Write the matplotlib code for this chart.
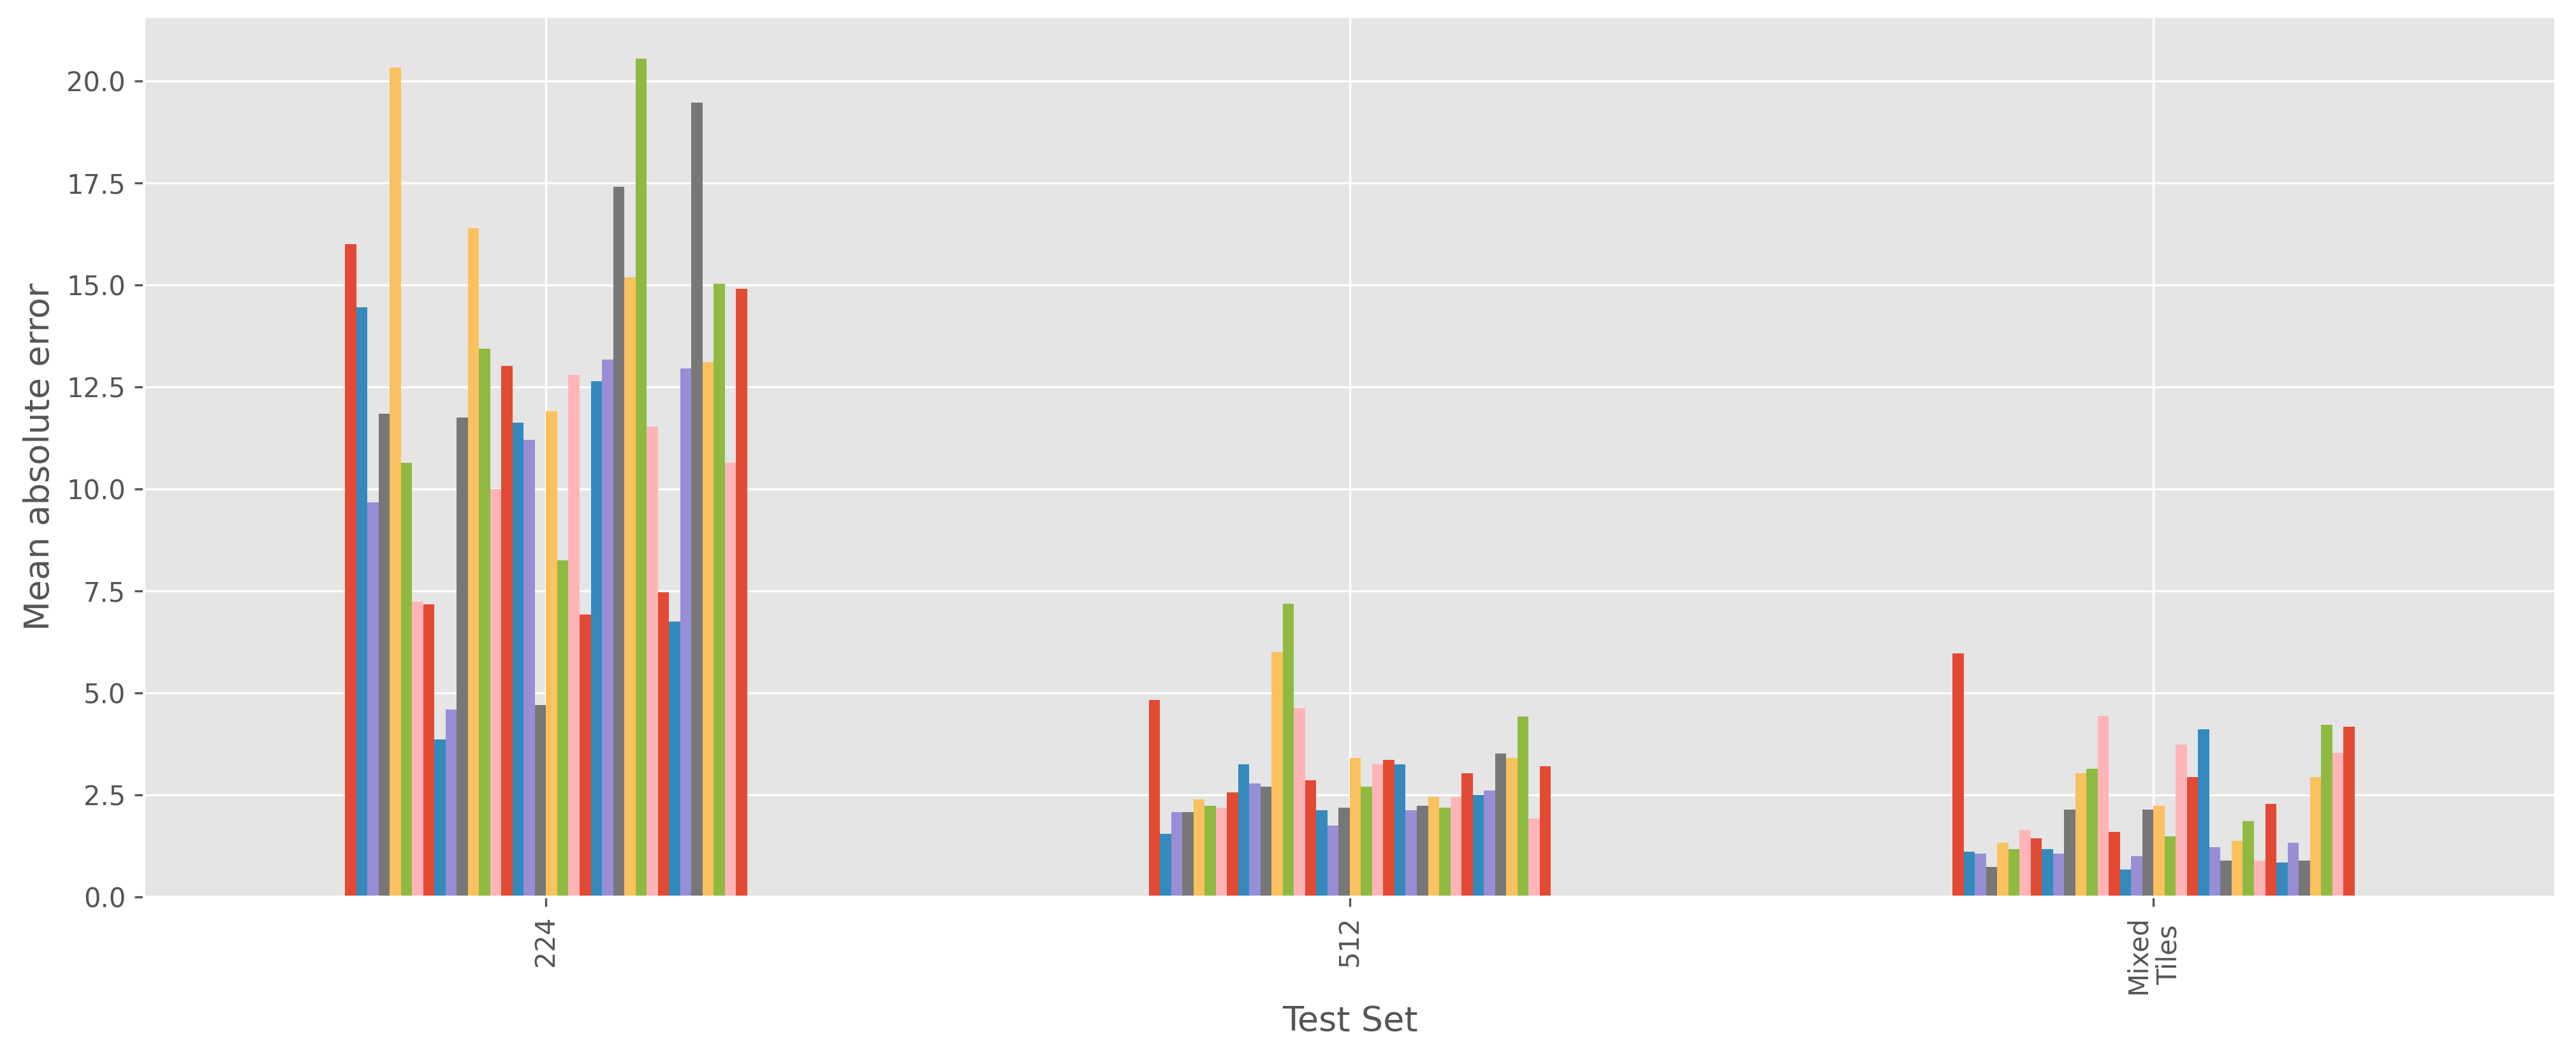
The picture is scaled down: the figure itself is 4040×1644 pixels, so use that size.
import matplotlib
matplotlib.use("Agg")
import matplotlib.pyplot as plt
import pandas as pd

plt.style.use("ggplot")
plt.rcParams["axes.labelsize"] = 13

test_sets = ["224", "512", "Mixed\nTiles"]

# one value per model run (36 runs)
mae_224 = [16.00, 14.45, 9.68, 11.85, 20.33, 10.64, 7.24, 7.18, 3.86, 4.60,
           11.75, 16.40, 13.44, 10.00, 13.02, 11.63, 11.21, 4.70, 11.91, 8.25,
           12.80, 6.92, 12.64, 13.18, 17.41, 15.19, 20.55, 11.53, 7.47, 6.76,
           12.96, 19.48, 13.12, 15.03, 10.64, 14.91]
mae_512 = [4.84, 1.55, 2.08, 2.08, 2.40, 2.24, 2.19, 2.56, 3.25, 2.78,
           2.71, 6.01, 7.19, 4.63, 2.87, 2.13, 1.76, 2.19, 3.41, 2.71,
           3.25, 3.36, 3.25, 2.13, 2.24, 2.45, 2.19, 2.45, 3.04, 2.51,
           2.61, 3.52, 3.41, 4.42, 1.92, 3.20]
mae_mixed = [5.98, 1.12, 1.06, 0.74, 1.33, 1.17, 1.65, 1.44, 1.17, 1.06,
             2.14, 3.04, 3.15, 4.44, 1.60, 0.68, 1.01, 2.14, 2.24, 1.49,
             3.74, 2.94, 4.12, 1.22, 0.90, 1.38, 1.86, 0.90, 2.29, 0.85,
             1.33, 0.90, 2.94, 4.22, 3.53, 4.17]

runs = ["run_%d" % (i + 1) for i in range(len(mae_224))]
df = pd.DataFrame([mae_224, mae_512, mae_mixed], index=test_sets, columns=runs)

fig, ax = plt.subplots(figsize=(4040 / 300, 1644 / 300), dpi=300)
df.plot.bar(ax=ax, legend=False, rot=90)
ax.set_xlabel("Test Set")
ax.set_ylabel("Mean absolute error")

fig.subplots_adjust(left=0.056, right=0.992, top=0.984, bottom=0.144)
fig.savefig("out.png", dpi=300)
